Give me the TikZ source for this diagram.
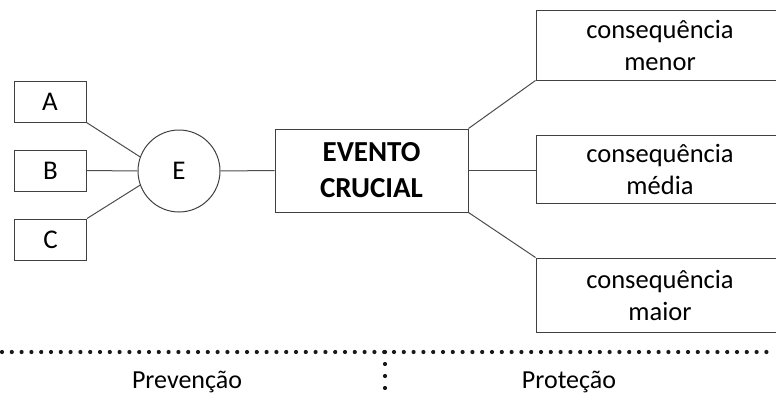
\documentclass[tikz,border=0pt]{standalone}
\usepackage{fontspec}
\setmainfont{Carlito}
\begin{document}
\begin{tikzpicture}[x=1pt,y=-1pt,
  box/.style={draw=black!75, line width=1pt, inner sep=0pt, align=center},
  small/.style={box, minimum width=72pt, minimum height=41pt, font=\fontsize{27}{30}\selectfont},
  cons/.style={box, minimum width=248pt, font=\fontsize{26.5}{32}\selectfont},
  conn/.style={draw=black!70, line width=1pt},
  dots/.style={draw=black!90, line width=4.2pt, line cap=round, dash pattern=on 0pt off 9.8pt},
  vdots/.style={draw=black!90, line width=4.2pt, line cap=round, dash pattern=on 0pt off 12pt},
  lbl/.style={font=\fontsize{26}{30}\selectfont, anchor=base, inner sep=0pt}]
\useasboundingbox (0,0) rectangle (776,396);
\node[small] (A) at (50,101.5) {A};
\node[small] (B) at (50.5,170.5) {B};
\node[small] (C) at (50.5,239.5) {C};
\node[circle, draw=black!75, line width=1pt, minimum size=82pt, inner sep=0pt, font=\fontsize{27}{30}\selectfont] (E) at (179,171) {E};
\node[box, minimum width=193pt, minimum height=83pt, font=\bfseries\fontsize{29}{36}\selectfont] (EC) at (371.5,170.5) {EVENTO\\CRUCIAL};
\node[cons, minimum height=69pt] (menor) at (660,45.5) {consequência\\menor};
\node[cons, minimum height=68pt] (media) at (660,169) {consequência\\média};
\node[cons, minimum height=74pt] (maior) at (660,295) {consequência\\maior};
\draw[conn] (A.south east) -- (E.160);
\draw[conn] (B.east) -- (E.west);
\draw[conn] (C.north east) -- (E.200);
\draw[conn] (E.east) -- (EC.west);
\draw[conn] (EC.north east) -- (menor.south west);
\draw[conn] (EC.east) -- (EC.east -| media.west);
\draw[conn] (EC.south east) -- (maior.north west);
\coordinate (hl) at (2,352);
\coordinate (hr) at (776,352);
\coordinate (vt) at (385,352);
\coordinate (vb) at (385,390);
\draw[dots] (hl) -- (hr);
\draw[vdots] (vt) -- (vb);
\node[lbl] (prev) at (187,388) {Prevenção};
\node[lbl] (prot) at (569,388) {Proteção};
\end{tikzpicture}
\end{document}
